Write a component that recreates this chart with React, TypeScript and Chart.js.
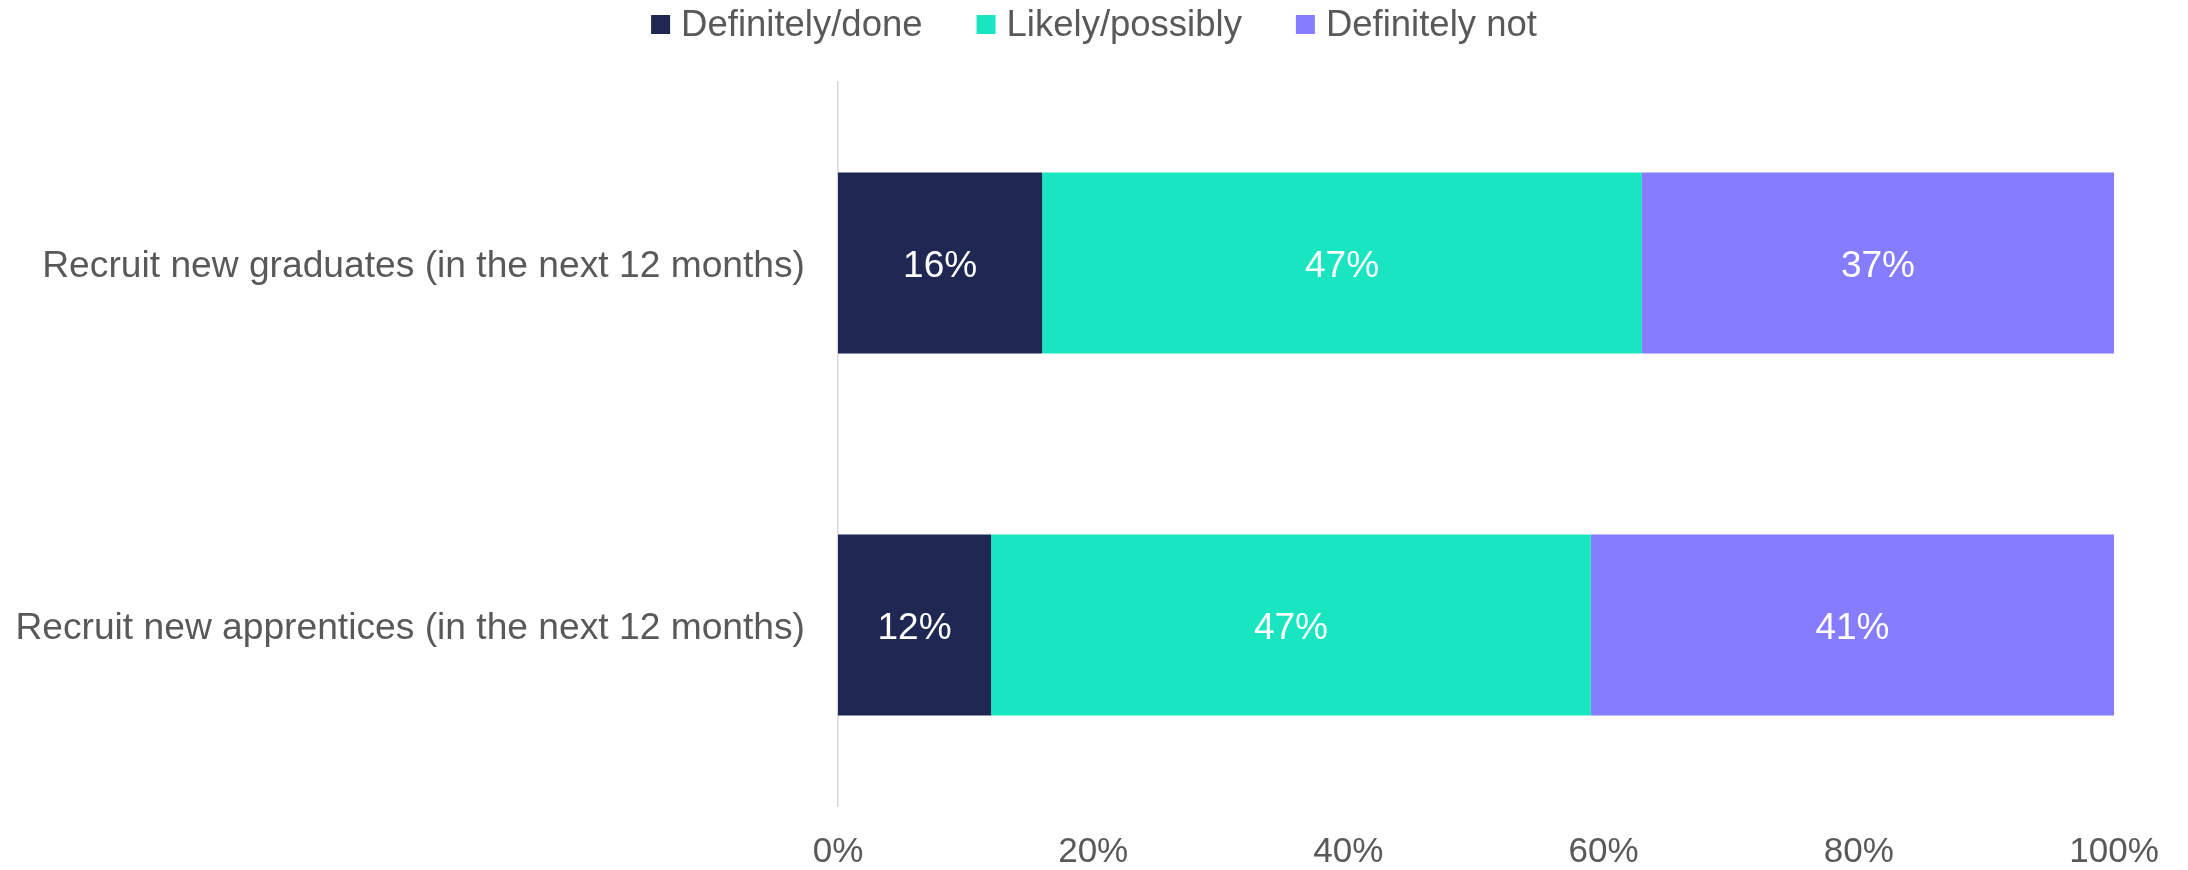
import React, { useEffect, useRef } from "react";
import { Chart, registerables } from "chart.js";

Chart.register(...registerables);

const categories = [
  "Recruit new graduates (in the next 12 months)",
  "Recruit new apprentices (in the next 12 months)",
];
const seriesNames = ["Definitely/done", "Likely/possibly", "Definitely not"];
const definitelyDone = [16, 12];
const likelyPossibly = [47, 47];
const definitelyNot = [37, 41];
const xTicks = [0, 20, 40, 60, 80, 100];

const COLORS = ["#1F2753", "#1AE5C1", "#857CFF"];
const TEXT = "#595959";
const FONT = "'Liberation Sans', Arial, Helvetica, sans-serif";

const legendPlugin = {
  id: "topLegend",
  afterDraw(chart: any) {
    const ctx = chart.ctx;
    ctx.save();
    ctx.font = `36.5px ${FONT}`;
    const box = 19;
    const gapBoxText = 11;
    const gapItems = 54;
    const items = chart.data.datasets.map((d: any) => ({
      text: d.label,
      color: d.backgroundColor,
      w: ctx.measureText(d.label).width,
    }));
    const total =
      items.reduce((s: number, it: any) => s + box + gapBoxText + it.w, 0) +
      gapItems * (items.length - 1);
    let x = (chart.width - total) / 2;
    const cy = 26;
    ctx.textBaseline = "middle";
    ctx.textAlign = "left";
    for (const it of items) {
      ctx.fillStyle = it.color;
      ctx.fillRect(x, 24.5 - box / 2, box, box);
      x += box + gapBoxText;
      ctx.fillStyle = TEXT;
      ctx.fillText(it.text, x, cy);
      x += it.w + gapItems;
    }
    ctx.restore();
  },
};

const valueLabelPlugin = {
  id: "valueLabels",
  afterDatasetsDraw(chart: any) {
    const ctx = chart.ctx;
    ctx.save();
    ctx.font = `37px ${FONT}`;
    ctx.fillStyle = "#FFFFFF";
    ctx.textAlign = "center";
    ctx.textBaseline = "middle";
    chart.data.datasets.forEach((ds: any, di: number) => {
      const meta = chart.getDatasetMeta(di);
      meta.data.forEach((bar: any, i: number) => {
        const v = ds.data[i];
        const cx = (bar.x + bar.base) / 2;
        ctx.fillText(`${v}%`, cx, bar.y + 4);
      });
    });
    ctx.restore();
  },
};

export default function App() {
  const ref = useRef<HTMLCanvasElement | null>(null);

  useEffect(() => {
    document.body.style.margin = "0";
    if (!ref.current) return;
    const chart = new Chart(ref.current, {
      type: "bar",
      data: {
        labels: categories,
        datasets: [
          { label: seriesNames[0], data: definitelyDone, backgroundColor: COLORS[0] },
          { label: seriesNames[1], data: likelyPossibly, backgroundColor: COLORS[1] },
          { label: seriesNames[2], data: definitelyNot, backgroundColor: COLORS[2] },
        ],
      },
      options: {
        indexAxis: "y",
        responsive: false,
        animation: false,
        devicePixelRatio: 1,
        layout: { padding: { top: 82, right: 74, left: 0, bottom: 0 } },
        datasets: {
          bar: { barPercentage: 0.5, categoryPercentage: 1 },
        },
        plugins: {
          legend: { display: false },
          tooltip: { enabled: false },
          title: { display: false },
        },
        scales: {
          x: {
            stacked: true,
            min: 0,
            max: 100,
            afterFit: (s: any) => {
              s.height = 64;
            },
            afterBuildTicks: (s: any) => {
              s.ticks = xTicks.map((v) => ({ value: v }));
            },
            grid: { display: false, drawTicks: false },
            border: { display: false },
            ticks: {
              padding: 25,
              color: TEXT,
              font: { family: FONT, size: 35 },
              callback: (v: any) => `${v}%`,
              maxRotation: 0,
            },
          },
          y: {
            stacked: true,
            afterFit: (s: any) => {
              s.width = 838;
            },
            grid: { display: false, drawTicks: false },
            border: { display: true, color: "#D9D9D9", width: 1.5 },
            ticks: {
              padding: 33,
              labelOffset: 4,
              color: TEXT,
              font: { family: FONT, size: 37.2 },
            },
          },
        },
      },
      plugins: [legendPlugin, valueLabelPlugin],
    });
    return () => chart.destroy();
  }, []);

  return (
    <div style={{ width: 2188, height: 870 }}>
      <canvas ref={ref} width={2188} height={870} style={{ display: "block" }} />
    </div>
  );
}
